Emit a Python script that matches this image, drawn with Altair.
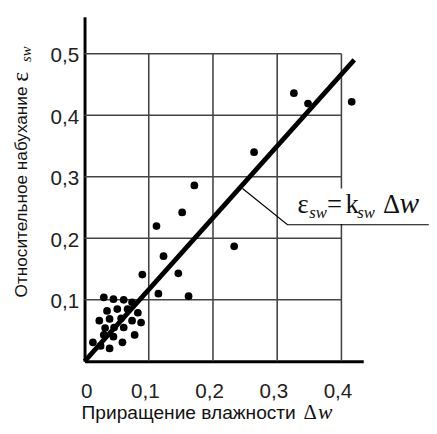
import altair as alt
import pandas as pd

# ---- data ----
x_vals = [0.030, 0.045, 0.061, 0.074, 0.035, 0.051, 0.067, 0.083, 0.023, 0.039,
          0.057, 0.074, 0.088, 0.032, 0.046, 0.061, 0.030, 0.045, 0.078, 0.013,
          0.059, 0.039, 0.025,
          0.171, 0.152, 0.112, 0.233, 0.123, 0.090, 0.146, 0.115, 0.162,
          0.326, 0.348, 0.416, 0.264]
y_vals = [0.104, 0.101, 0.100, 0.096, 0.082, 0.085, 0.085, 0.079, 0.066, 0.069,
          0.070, 0.066, 0.063, 0.054, 0.055, 0.055, 0.043, 0.040, 0.043, 0.031,
          0.031, 0.021, 0.025,
          0.286, 0.242, 0.220, 0.187, 0.171, 0.141, 0.143, 0.110, 0.106,
          0.436, 0.419, 0.422, 0.340]
fit_x = [0.0, 0.42]
fit_y = [0.0, 0.49]
x_ticks = [0.0, 0.1, 0.2, 0.3, 0.4]
y_ticks = [0.1, 0.2, 0.3, 0.4, 0.5]
grid_x = [0.1, 0.2, 0.3, 0.4]
grid_y = [0.1, 0.2, 0.3, 0.4, 0.5]
leader_x = [0.246, 0.316, 0.536]
leader_y = [0.281, 0.222, 0.222]

XDOM = [0, 0.434]
YDOM = [0, 0.56]
SANS = "Liberation Sans"
SERIF = "Liberation Serif"

xs = alt.Scale(domain=XDOM, nice=False, zero=False)
ys = alt.Scale(domain=YDOM, nice=False, zero=False)

lab_expr = "replace(format(datum.value, '.1~f'), '.', ',')"
xaxis = alt.Axis(values=x_ticks, labelExpr=lab_expr, grid=False, ticks=False, tickSize=0,
                 domainColor="black", domainWidth=3, labelFont=SANS, labelFontSize=21,
                 labelColor="#222222", labelPadding=20, labelOffset=-4, title=None)
yaxis = alt.Axis(values=y_ticks, labelExpr=lab_expr, grid=False, ticks=False, tickSize=0,
                 domainColor="black", domainWidth=3, labelFont=SANS, labelFontSize=21,
                 labelColor="#222222", labelPadding=6, labelOffset=2, title=None)

pts = pd.DataFrame({"x": x_vals, "y": y_vals})
fit = pd.DataFrame({"x": fit_x, "y": fit_y})
vgrid = pd.DataFrame({"x": grid_x, "y": [0.0] * len(grid_x), "y2": [0.5] * len(grid_x)})
hgrid = pd.DataFrame({"y": grid_y, "x": [0.0] * len(grid_y), "x2": [0.4] * len(grid_y)})
leader = pd.DataFrame({"x": leader_x, "y": leader_y, "o": list(range(len(leader_x)))})


def X(f="x"):
    return alt.X(f + ":Q", scale=xs, axis=xaxis)


def Y(f="y"):
    return alt.Y(f + ":Q", scale=ys, axis=yaxis)


vg = alt.Chart(vgrid).mark_rule(color="#444444", strokeWidth=1.6).encode(
    x=X(), y=Y(), y2="y2:Q")
hg = alt.Chart(hgrid).mark_rule(color="#444444", strokeWidth=1.6).encode(
    y=Y(), x=X(), x2="x2:Q")

one = pd.DataFrame({"a": [0]})
box = alt.Chart(one).mark_rect(color="white").encode(
    x=alt.value(209), x2=alt.value(351), y=alt.value(175), y2=alt.value(211))

lead = alt.Chart(leader).mark_line(color="black", strokeWidth=1.2).encode(
    x=X(), y=Y(), order="o:Q")

line = alt.Chart(fit).mark_line(color="black", strokeWidth=4.8, strokeCap="butt").encode(
    x=X(), y=Y())

dots = alt.Chart(pts).mark_circle(color="black", size=62, opacity=1).encode(
    x=X(), y=Y())


def txt(text, x, y, font, size, style="normal", angle=0, align="left"):
    kw = dict(text=text, font=font, fontSize=size, fontStyle=style, align=align,
              baseline="alphabetic", color="#111111")
    if angle:
        kw["angle"] = angle
    return alt.Chart(one).mark_text(**kw).encode(x=alt.value(x), y=alt.value(y))


texts = [
    # x title
    txt("Приращение влажности", -3, 410, SANS, 19.5),
    txt("Δ", 223, 410, SERIF, 21),
    txt("w", 238, 410, SERIF, 22, style="italic"),
    # y title
    txt("Относительное набухание", -59, 71, SANS, 17.5, angle=270, align="right"),
    txt("ε", -58, 66, SERIF, 24, angle=270),
    txt("sw", -55, 46, SERIF, 15, style="italic", angle=270),
    # annotation
    txt("ε", 217, 200, SERIF, 27),
    txt("sw", 229, 205, SERIF, 17, style="italic"),
    txt("=", 247, 200, SERIF, 27),
    txt("k", 266, 200, SERIF, 27),
    txt("sw", 278, 205, SERIF, 17, style="italic"),
    txt("Δ", 304, 200, SERIF, 27),
    txt("w", 321, 200, SERIF, 30, style="italic"),
]

chart = alt.layer(vg, hg, box, lead, line, dots, *texts).properties(
    width=284,
    height=351,
    autosize=alt.AutoSizeParams(type="none"),
    padding={"left": 78, "top": 5, "right": 67, "bottom": 70},
).configure_view(stroke=None)

chart.save("out.html", embed_options={"renderer": "svg", "actions": False})
